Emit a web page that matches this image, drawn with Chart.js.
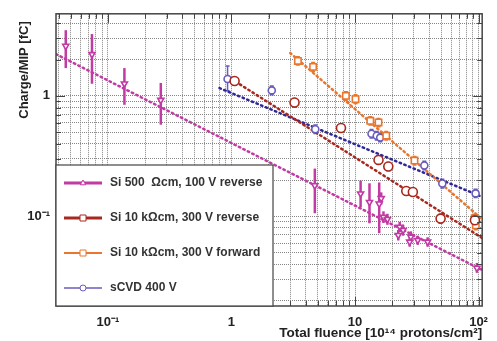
<!DOCTYPE html>
<html>
<head>
<meta charset="utf-8">
<script src="https://cdn.jsdelivr.net/npm/chart.js@4.4.1/dist/chart.umd.min.js"></script>
<style>
html, body { margin: 0; padding: 0; background: #fff; }
</style>
</head>
<body>
<canvas id="fluenceChart" width="497" height="341"></canvas>
<script>
// values
var seriesLabels = ['Si 500  \u03A9cm, 100 V reverse', 'Si 10 k\u03A9cm, 300 V reverse', 'Si 10 k\u03A9cm, 300 V forward', 'sCVD 400 V'];
var xTitle = 'Total fluence [10\u00B9\u2074 protons/cm\u00B2]';
var yTitle = 'Charge/MIP [fC]';

var si500X = [0.0456, 0.0743, 0.136, 0.268, 4.73, 11.1, 13.1, 15.7, 16.3, 17.0, 18.3, 23.0, 22.4, 24.5, 28.3, 27.7, 32.2, 38.7, 97];
var si500Y = [2.59, 2.21, 1.26, 0.921, 0.180, 0.154, 0.131, 0.127, 0.141, 0.0987, 0.0945, 0.0816, 0.0697, 0.0766, 0.0675, 0.0613, 0.0633, 0.0613, 0.0372];
var si500Lo = [1.70, 1.26, 0.843, 0.576, 0.106, 0.119, 0.0875, 0.0724, 0.125, 0.088, 0.085, 0.074, 0.063, 0.069, 0.061, 0.056, 0.058, 0.056, 0.034];
var si500Hi = [3.51, 3.26, 1.70, 1.28, 0.249, 0.198, 0.188, 0.191, 0.158, 0.110, 0.105, 0.090, 0.077, 0.085, 0.075, 0.067, 0.069, 0.067, 0.041];

var revX = [1.06, 3.24, 7.70, 15.5, 18.6, 26.0, 29.4, 49.3, 93.5];
var revY = [1.33, 0.880, 0.541, 0.294, 0.259, 0.162, 0.159, 0.0957, 0.0928];
var revLo = [1.23, 0.81, 0.50, 0.272, 0.240, 0.150, 0.147, 0.088, 0.085];
var revHi = [1.44, 0.95, 0.585, 0.318, 0.280, 0.175, 0.172, 0.104, 0.101];

var fwdX = [3.45, 4.58, 8.44, 10.1, 13.3, 15.5, 17.9, 30.3, 93, 95];
var fwdY = [1.95, 1.74, 1.00, 0.939, 0.621, 0.602, 0.467, 0.290, 0.0962, 0.0842];
var fwdLo = [1.80, 1.60, 0.92, 0.865, 0.572, 0.555, 0.430, 0.267, 0.0885, 0.0775];
var fwdHi = [2.11, 1.89, 1.08, 1.02, 0.672, 0.650, 0.505, 0.314, 0.104, 0.091];

var cvdX = [0.93, 2.12, 4.77, 13.6, 15.0, 16.0, 36.4, 50.9, 94.7];
var cvdY = [1.38, 1.11, 0.528, 0.485, 0.467, 0.45, 0.264, 0.187, 0.155];
var cvdLo = [1.10, 1.02, 0.486, 0.447, 0.430, 0.415, 0.243, 0.172, 0.143];
var cvdHi = [1.77, 1.21, 0.572, 0.525, 0.505, 0.488, 0.286, 0.203, 0.168];

// dotted fit lines (end points)
var si500FitX = [0.038, 107], si500FitY = [2.22, 0.0358];
var revFitX = [1.0, 107], revFitY = [1.38, 0.066];
var fwdFitX = [2.99, 107], fwdFitY = [2.27, 0.0946];
var cvdFitX = [0.80, 107], cvdFitY = [1.16, 0.145];

var xTickValues = [0.1, 1, 10, 100];
var xTickLabels = ['10\u207B\u00B9', '1', '10', '10\u00B2'];
var yTickValues = [0.1, 1];
var yTickLabels = ['10\u207B\u00B9', '1'];

var colMag = 'rgb(194,58,164)', colRed = 'rgb(168,40,30)', colOra = 'rgb(232,118,46)', colBlu = 'rgb(104,92,190)', colBluLine = 'rgb(48,40,150)';
var FONT = "'Liberation Sans', Arial, sans-serif";

function pts(xs, ys) {
    return xs.map(function (v, i) { return { x: v, y: ys[i] }; });
}
// minor grid positions 1..9 per decade
function logGrid(lo, hi) {
    var out = [];
    for (var e = Math.floor(Math.log10(lo)); e <= Math.ceil(Math.log10(hi)); e++) {
        for (var m = 1; m < 10; m++) {
            var v = m * Math.pow(10, e);
            if (v >= lo && v <= hi) out.push(v);
        }
    }
    return out;
}
function isDecade(v) {
    var l = Math.log10(v);
    return Math.abs(l - Math.round(l)) < 1e-9;
}
function labelFor(values, labels, v) {
    for (var i = 0; i < values.length; i++) {
        if (Math.abs(values[i] - v) / v < 1e-6) return labels[i];
    }
    return '';
}

var X_MIN = 0.038, X_MAX = 107, Y_MIN = 0.018, Y_MAX = 4.8;

var errSets = [
    { x: si500X, lo: si500Lo, hi: si500Hi, color: colMag, width: 2.5, cap: 0 },
    { x: revX, lo: revLo, hi: revHi, color: colRed, width: 1.5, cap: 2 },
    { x: fwdX, lo: fwdLo, hi: fwdHi, color: colOra, width: 1.5, cap: 2 },
    { x: cvdX, lo: cvdLo, hi: cvdHi, color: colBlu, width: 1.5, cap: 2 }
];

var errorBars = {
    id: 'errorBars',
    beforeDatasetsDraw: function (chart) {
        var ctx = chart.ctx, xs = chart.scales.x, ys = chart.scales.y;
        ctx.save();
        errSets.forEach(function (s) {
            ctx.strokeStyle = s.color;
            ctx.lineWidth = s.width;
            s.x.forEach(function (xv, i) {
                var px = xs.getPixelForValue(xv);
                var p1 = ys.getPixelForValue(s.lo[i]), p2 = ys.getPixelForValue(s.hi[i]);
                ctx.beginPath();
                ctx.moveTo(px, p1); ctx.lineTo(px, p2);
                if (s.cap) {
                    ctx.moveTo(px - s.cap, p1); ctx.lineTo(px + s.cap, p1);
                    ctx.moveTo(px - s.cap, p2); ctx.lineTo(px + s.cap, p2);
                }
                ctx.stroke();
            });
        });
        ctx.restore();
    }
};

var frameTicks = {
    id: 'frameTicks',
    afterDatasetsDraw: function (chart) {
        var ctx = chart.ctx, a = chart.chartArea, xs = chart.scales.x, ys = chart.scales.y;
        ctx.save();
        ctx.strokeStyle = '#444';
        ctx.lineWidth = 1;
        ctx.beginPath();
        logGrid(X_MIN, X_MAX).forEach(function (v) {
            var px = Math.round(xs.getPixelForValue(v)) + 0.5, len = isDecade(v) ? 9 : 5;
            ctx.moveTo(px, a.top); ctx.lineTo(px, a.top + len);
            ctx.moveTo(px, a.bottom); ctx.lineTo(px, a.bottom - len);
        });
        logGrid(Y_MIN, Y_MAX).forEach(function (v) {
            var py = Math.round(ys.getPixelForValue(v)) + 0.5, len = isDecade(v) ? 9 : 5;
            ctx.moveTo(a.left, py); ctx.lineTo(a.left + len, py);
            ctx.moveTo(a.right, py); ctx.lineTo(a.right - len, py);
        });
        ctx.stroke();
        ctx.lineWidth = 1.5;
        ctx.strokeRect(a.left, a.top, a.right - a.left, a.bottom - a.top);
        ctx.restore();
    }
};

// axis titles placed like the original (x title flush right, y title near the top)
var axisTitles = {
    id: 'axisTitles',
    afterDraw: function (chart) {
        var ctx = chart.ctx, a = chart.chartArea;
        ctx.save();
        ctx.fillStyle = '#222';
        ctx.textBaseline = 'middle';
        ctx.font = 'bold 13.5px ' + FONT;
        ctx.textAlign = 'right';
        ctx.fillText(xTitle, a.right, 333);
        ctx.translate(24, 70);
        ctx.rotate(-Math.PI / 2);
        ctx.font = 'bold 13px ' + FONT;
        ctx.textAlign = 'center';
        ctx.fillText(yTitle, 0, 0);
        ctx.restore();
    }
};

function drawMarker(ctx, style, x, y, r) {
    ctx.beginPath();
    if (style === 'triangle') {
        ctx.moveTo(x, y - r); ctx.lineTo(x + r * 0.9, y + r * 0.6); ctx.lineTo(x - r * 0.9, y + r * 0.6); ctx.closePath();
    } else if (style === 'rect') {
        ctx.rect(x - r, y - r, 2 * r, 2 * r);
    } else {
        ctx.arc(x, y, r, 0, Math.PI * 2);
    }
    ctx.fill();
    ctx.stroke();
}

var legendBox = {
    id: 'legendBox',
    afterDraw: function (chart) {
        var ctx = chart.ctx, a = chart.chartArea;
        var left = a.left, top = 165, right = 273, bottom = a.bottom;
        var entries = [
            { color: colMag, style: 'triangle', lw: 2.8 },
            { color: colRed, style: 'rect', lw: 2.8 },
            { color: colOra, style: 'rect', lw: 2.2 },
            { color: colBlu, style: 'circle', lw: 1.3 }
        ];
        ctx.save();
        ctx.fillStyle = '#fff';
        ctx.fillRect(left, top, right - left, bottom - top);
        ctx.strokeStyle = '#444';
        ctx.lineWidth = 1.2;
        ctx.strokeRect(left, top, right - left, bottom - top);
        entries.forEach(function (e, i) {
            var y = top + 18 + i * 35;
            ctx.strokeStyle = e.color;
            ctx.lineWidth = e.lw;
            ctx.beginPath(); ctx.moveTo(left + 8, y); ctx.lineTo(left + 46, y); ctx.stroke();
            ctx.lineWidth = 1;
            ctx.fillStyle = '#fff';
            drawMarker(ctx, e.style, left + 27, y, 3);
            ctx.fillStyle = '#333';
            ctx.font = 'bold 12px ' + FONT;
            ctx.textBaseline = 'middle';
            ctx.fillText(seriesLabels[i], left + 54, y);
        });
        ctx.restore();
    }
};

function fitSet(xs, ys, color, width) {
    return {
        data: pts(xs, ys), showLine: true, pointRadius: 0, borderColor: color,
        borderWidth: width, borderDash: [1.5, 3.5], borderCapStyle: 'round', fill: false
    };
}
function pointSet(label, xs, ys, color, style, radius, rot) {
    return {
        label: label, data: pts(xs, ys), showLine: false, pointStyle: style, pointRadius: radius,
        rotation: rot || 0, borderColor: color, backgroundColor: '#fff', borderWidth: 1.6
    };
}

var ctx = document.getElementById('fluenceChart').getContext('2d');
var fluenceChart = new Chart(ctx, {
    type: 'scatter',
    data: {
        datasets: [
            pointSet(seriesLabels[0], si500X, si500Y, colMag, 'triangle', 3.5, 180),
            pointSet(seriesLabels[1], revX, revY, colRed, 'circle', 4.5),
            pointSet(seriesLabels[2], fwdX, fwdY, colOra, 'rect', 4.5),
            pointSet(seriesLabels[3], cvdX, cvdY, colBlu, 'circle', 3.5),
            fitSet(si500FitX, si500FitY, colMag, 2.5),
            fitSet(revFitX, revFitY, colRed, 2.5),
            fitSet(fwdFitX, fwdFitY, colOra, 2.5),
            fitSet(cvdFitX, cvdFitY, colBluLine, 2.5)
        ]
    },
    options: {
        responsive: false,
        animation: false,
        events: [],
        layout: { padding: { left: 16, right: 7, top: 13, bottom: 0 } },
        plugins: { legend: { display: false }, tooltip: { enabled: false } },
        scales: {
            x: {
                type: 'logarithmic',
                min: X_MIN, max: X_MAX,
                afterBuildTicks: function (scale) {
                    scale.ticks = logGrid(X_MIN, X_MAX).map(function (v) { return { value: v }; });
                },
                afterFit: function (scale) { scale.height = 35; },
                ticks: {
                    autoSkip: false, maxRotation: 0, padding: 9, color: '#222',
                    font: { family: FONT, size: 13, weight: 'bold' },
                    callback: function (v) { return labelFor(xTickValues, xTickLabels, v); }
                },
                grid: { color: '#858585', lineWidth: 1, drawTicks: false },
                border: { display: false, dash: [1, 1] }
            },
            y: {
                type: 'logarithmic',
                min: Y_MIN, max: Y_MAX,
                afterBuildTicks: function (scale) {
                    scale.ticks = logGrid(Y_MIN, Y_MAX).map(function (v) { return { value: v }; });
                },
                afterFit: function (scale) { scale.width = 40; },
                ticks: {
                    autoSkip: false, padding: 6, color: '#222',
                    font: { family: FONT, size: 13, weight: 'bold' },
                    callback: function (v) { return labelFor(yTickValues, yTickLabels, v); }
                },
                grid: { color: '#858585', lineWidth: 1, drawTicks: false },
                border: { display: false, dash: [1, 1] }
            }
        }
    },
    plugins: [errorBars, frameTicks, axisTitles, legendBox]
});
</script>
</body>
</html>
